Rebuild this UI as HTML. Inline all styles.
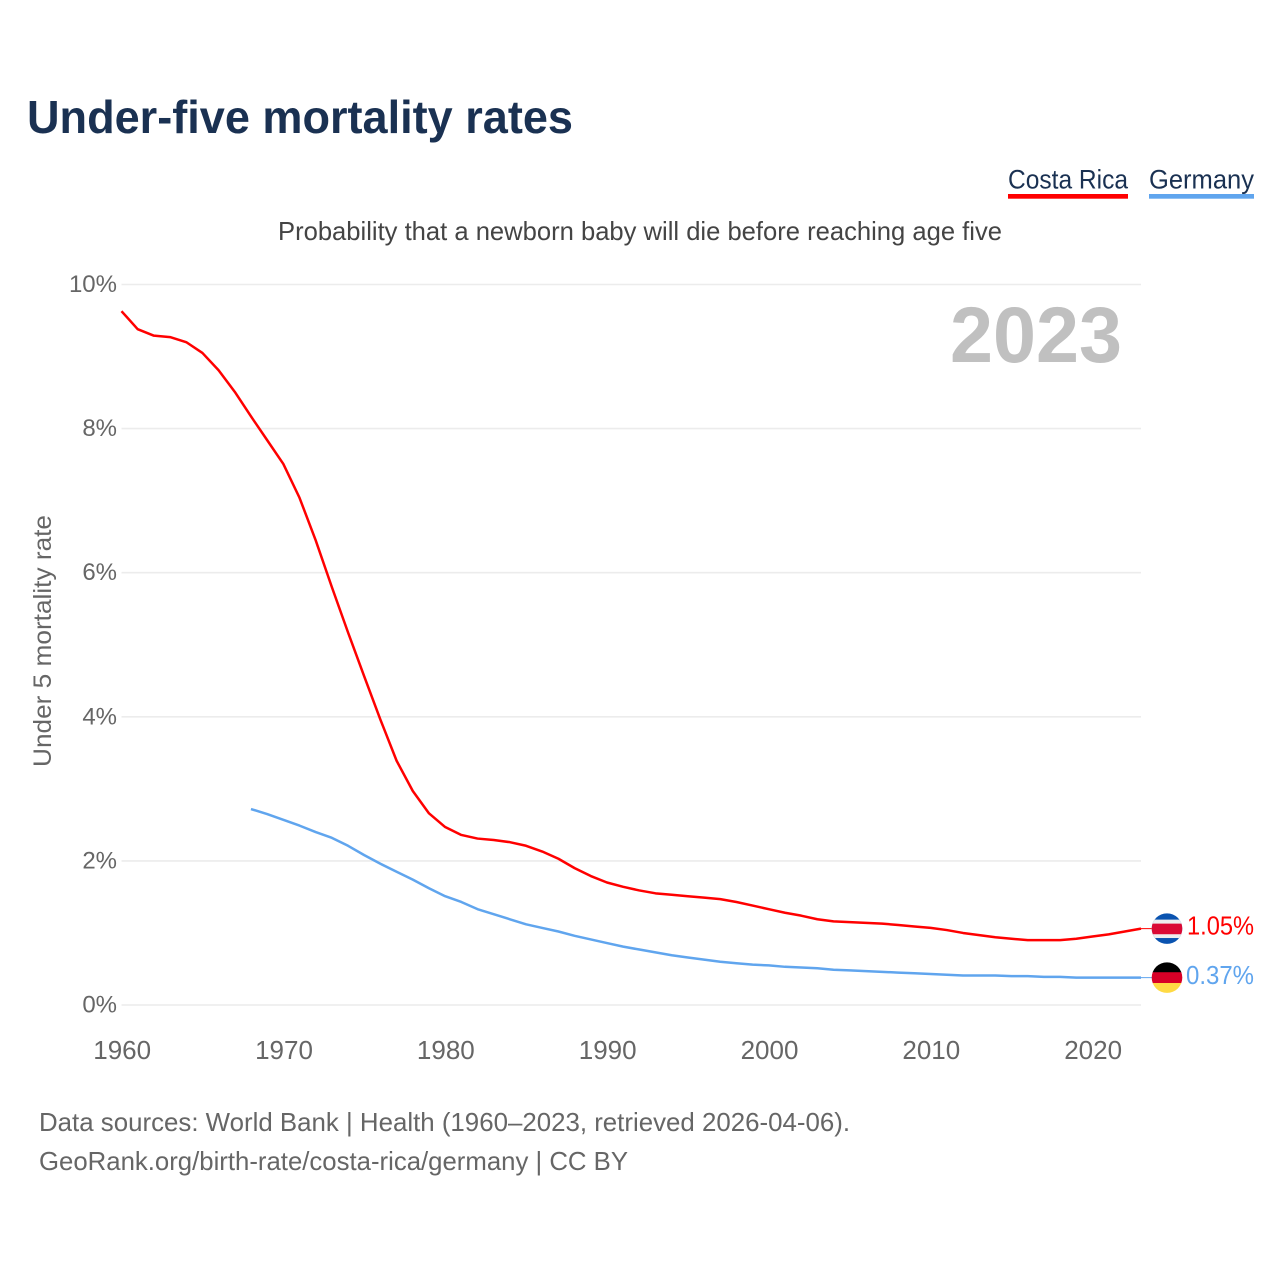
<!DOCTYPE html>
<html lang="en">
<head>
<meta charset="utf-8">
<title>Under-five mortality rates</title>
<style>
html,body{margin:0;padding:0;background:#fff;}
svg{display:block;font-family:"Liberation Sans",sans-serif;}
</style>
</head>
<body>
<svg id="chart" xmlns="http://www.w3.org/2000/svg" width="1280" height="1280" viewBox="0 0 1280 1280">
  <rect x="0" y="0" width="1280" height="1280" fill="#ffffff"/>
  <defs>
    <clipPath id="clip-cr"><circle id="clip-cr-circle" cx="1167" cy="929" r="15.3"/></clipPath>
    <clipPath id="clip-de"><circle id="clip-de-circle" cx="1167" cy="978" r="15.3"/></clipPath>
  </defs>
  <text x="27" y="133" font-size="46" font-weight="700" fill="#1a3152" textLength="546" lengthAdjust="spacingAndGlyphs">Under-five mortality rates</text>

  <g>
    <text x="1008" y="188.5" font-size="27" fill="#1a3152" textLength="120" lengthAdjust="spacingAndGlyphs">Costa Rica</text>
    <rect x="1008" y="194" width="120" height="4.7" fill="#ff0000"/>
  </g>
  <g>
    <text x="1149" y="188.5" font-size="27" fill="#1a3152" textLength="105" lengthAdjust="spacingAndGlyphs">Germany</text>
    <rect x="1149" y="194" width="105" height="4.7" fill="#60a5ee"/>
  </g>

  <text x="278" y="240" font-size="26" fill="#444444" textLength="724" lengthAdjust="spacingAndGlyphs">Probability that a newborn baby will die before reaching age five</text>

  <g id="grid"></g>
  <g id="y-ticks"></g>
  <g id="x-ticks"></g>

  <text transform="translate(51 641) rotate(-90)" text-anchor="middle" font-size="25" fill="#666666" textLength="252" lengthAdjust="spacingAndGlyphs">Under 5 mortality rate</text>

  <text x="950" y="362" font-size="79" font-weight="700" fill="#c0c0c0" textLength="172" lengthAdjust="spacingAndGlyphs">2023</text>

  <g id="series"></g>
  <g id="end-labels"></g>

  <text x="39" y="1131" font-size="26" fill="#666666" textLength="811" lengthAdjust="spacingAndGlyphs">Data sources: World Bank | Health (1960–2023, retrieved 2026-04-06).</text>
  <text x="39" y="1170" font-size="26" fill="#666666" textLength="589" lengthAdjust="spacingAndGlyphs">GeoRank.org/birth-rate/costa-rica/germany | CC BY</text>
</svg>
<script>
const yTickValues = [0, 2, 4, 6, 8, 10];
const yTickLabels = ['0%', '2%', '4%', '6%', '8%', '10%'];
const xTickYears = [1960, 1970, 1980, 1990, 2000, 2010, 2020];
const xTickLabels = ['1960', '1970', '1980', '1990', '2000', '2010', '2020'];

const costaRicaStartYear = 1960;
const costaRicaValues = [
  9.63, 9.38, 9.29, 9.27, 9.20, 9.05, 8.81, 8.51, 8.17, 7.84,
  7.51, 7.04, 6.45, 5.80, 5.17, 4.56, 3.96, 3.39, 2.97, 2.66,
  2.47, 2.36, 2.31, 2.29, 2.26, 2.21, 2.13, 2.03, 1.90, 1.79,
  1.70, 1.64, 1.59, 1.55, 1.53, 1.51, 1.49, 1.47, 1.43, 1.38,
  1.33, 1.28, 1.24, 1.19, 1.16, 1.15, 1.14, 1.13, 1.11, 1.09,
  1.07, 1.04, 1.00, 0.97, 0.94, 0.92, 0.90, 0.90, 0.90, 0.92,
  0.95, 0.98, 1.02, 1.06
];

const germanyStartYear = 1968;
const germanyValues = [
  2.72, 2.65,
  2.57, 2.49, 2.40, 2.32, 2.21, 2.08, 1.96, 1.85, 1.74, 1.62,
  1.51, 1.43, 1.33, 1.26, 1.19, 1.12, 1.07, 1.02, 0.96, 0.91,
  0.86, 0.81, 0.77, 0.73, 0.69, 0.66, 0.63, 0.60, 0.58, 0.56,
  0.55, 0.53, 0.52, 0.51, 0.49, 0.48, 0.47, 0.46, 0.45, 0.44,
  0.43, 0.42, 0.41, 0.41, 0.41, 0.40, 0.40, 0.39, 0.39, 0.38,
  0.38, 0.38, 0.38, 0.38
];

const costaRicaEndLabel = '1.05%';
const germanyEndLabel = '0.37%';

const NS = 'http://www.w3.org/2000/svg';
const X0 = 121.5, X1 = 1141, Y0 = 1005, Y10 = 284.5;
function xScale(year) { return X0 + (year - 1960) * (X1 - X0) / 63; }
function yScale(v) { return Y0 + v * (Y10 - Y0) / 10; }

const grid = document.getElementById('grid');
const yTicks = document.getElementById('y-ticks');
const xTicks = document.getElementById('x-ticks');
const series = document.getElementById('series');
const endLabels = document.getElementById('end-labels');

yTickValues.forEach(function (v, i) {
  const line = document.createElementNS(NS, 'line');
  
  
  line.setAttribute('x1', X0);
  line.setAttribute('x2', X1);
  line.setAttribute('y1', yScale(v));
  line.setAttribute('y2', yScale(v));
  line.setAttribute('stroke', '#ececec');
  line.setAttribute('stroke-width', '1.6');
  grid.appendChild(line);

  const t = document.createElementNS(NS, 'text');
  
  
  t.setAttribute('x', 117);
  t.setAttribute('y', yScale(v) + 7.5);
  t.setAttribute('text-anchor', 'end');
  t.setAttribute('font-size', '24');
  t.setAttribute('fill', '#666666');
  t.textContent = yTickLabels[i];
  yTicks.appendChild(t);
});

xTickYears.forEach(function (year, i) {
  const t = document.createElementNS(NS, 'text');
  
  
  t.setAttribute('x', xScale(year) + 0.7);
  t.setAttribute('y', 1059);
  t.setAttribute('text-anchor', 'middle');
  t.setAttribute('font-size', '26');
  t.setAttribute('fill', '#666666');
  t.textContent = xTickLabels[i];
  xTicks.appendChild(t);
});

function seriesPoints(values, startYear) {
  return values.map(function (v, i) {
    return xScale(startYear + i).toFixed(2) + ',' + yScale(v).toFixed(2);
  }).join(' ');
}

const germanyLine = document.createElementNS(NS, 'polyline');


germanyLine.setAttribute('points', seriesPoints(germanyValues, germanyStartYear));
germanyLine.setAttribute('fill', 'none');
germanyLine.setAttribute('stroke', '#60a5ee');
germanyLine.setAttribute('stroke-width', '2.5');
germanyLine.setAttribute('stroke-linejoin', 'round');
series.appendChild(germanyLine);

const costaLine = document.createElementNS(NS, 'polyline');


costaLine.setAttribute('points', seriesPoints(costaRicaValues, costaRicaStartYear));
costaLine.setAttribute('fill', 'none');
costaLine.setAttribute('stroke', '#ff0000');
costaLine.setAttribute('stroke-width', '2.5');
costaLine.setAttribute('stroke-linejoin', 'round');
series.appendChild(costaLine);

function addRect(parent, x, y, w, h, fill, clip, name) {
  const r = document.createElementNS(NS, 'rect');
  
  
  r.setAttribute('x', x);
  r.setAttribute('y', y);
  r.setAttribute('width', w);
  r.setAttribute('height', h);
  r.setAttribute('fill', fill);
  r.setAttribute('clip-path', clip);
  parent.appendChild(r);
}

function addConnector(parent, y, color, name) {
  const c = document.createElementNS(NS, 'line');
  
  
  c.setAttribute('x1', X1);
  c.setAttribute('x2', 1153);
  c.setAttribute('y1', y);
  c.setAttribute('y2', y);
  c.setAttribute('stroke', color);
  c.setAttribute('stroke-width', '1');
  parent.appendChild(c);
}

function addEndText(parent, x, y, color, label, width, name) {
  const t = document.createElementNS(NS, 'text');
  
  
  t.setAttribute('x', x);
  t.setAttribute('y', y);
  t.setAttribute('font-size', '26');
  t.setAttribute('fill', color);
  t.setAttribute('textLength', width);
  t.setAttribute('lengthAdjust', 'spacingAndGlyphs');
  t.textContent = label;
  parent.appendChild(t);
}

const crY = yScale(costaRicaValues[costaRicaValues.length - 1]);
const deY = yScale(germanyValues[germanyValues.length - 1]);

document.getElementById('clip-cr-circle').setAttribute('cy', crY);
document.getElementById('clip-de-circle').setAttribute('cy', deY);

addConnector(endLabels, crY, '#ff0000', 'connector-costa-rica');
addConnector(endLabels, deY, '#60a5ee', 'connector-germany');

const flagCr = document.createElementNS(NS, 'g');


endLabels.appendChild(flagCr);
addRect(flagCr, 1151, crY - 16, 32, 32, '#0a53b0', 'url(#clip-cr)', 'flag-stripe-blue');
addRect(flagCr, 1151, crY - 9, 32, 18.4, '#eeeeee', 'url(#clip-cr)', 'flag-stripe-white');
addRect(flagCr, 1151, crY - 5, 32, 10.6, '#da0a35', 'url(#clip-cr)', 'flag-stripe-red');

const flagDe = document.createElementNS(NS, 'g');


endLabels.appendChild(flagDe);
addRect(flagDe, 1151, deY - 16, 32, 11, '#000000', 'url(#clip-de)', 'flag-stripe-black');
addRect(flagDe, 1151, deY - 5.4, 32, 11, '#d80027', 'url(#clip-de)', 'flag-stripe-red');
addRect(flagDe, 1151, deY + 5.4, 32, 11, '#ffda44', 'url(#clip-de)', 'flag-stripe-gold');

addEndText(endLabels, 1187, crY + 6, '#ff0000', costaRicaEndLabel, 67, 'value-label-costa-rica');
addEndText(endLabels, 1186, deY + 6.5, '#60a5ee', germanyEndLabel, 68, 'value-label-germany');
</script>
</body>
</html>
